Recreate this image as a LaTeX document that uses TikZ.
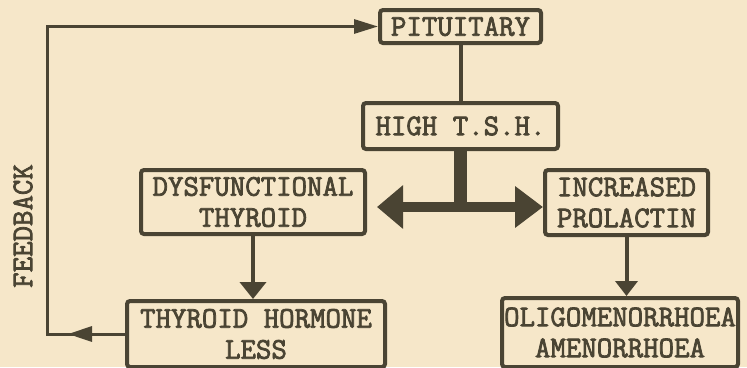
\documentclass[tikz,border=0pt]{standalone}
\usepackage{fontspec}
\newfontfamily\typewriter{Latin Modern Mono}[FakeBold=2.5]
\usepackage{xcolor}
\usepackage{tikz}
\usetikzlibrary{arrows.meta,positioning}

\definecolor{paper}{RGB}{246,231,201}
\definecolor{ink}{RGB}{74,68,51}

\begin{document}
\begin{tikzpicture}[
      x=1pt, y=-1pt,
      box/.style={draw=ink, line width=4pt, rounded corners=3pt, align=center,
          inner sep=0pt, text=ink, font=\typewriter\fontsize{30}{31}\selectfont},
      link/.style={draw=ink, line width=4pt},
      arrow/.style={link, -{Triangle[length=17pt, width=26pt]}},
      bigarrow/.style={draw=ink, line width=10pt,
          {Triangle[length=26pt, width=42pt]}-{Triangle[length=28pt, width=40pt]}},
      feed/.style={draw=ink, line width=3pt}
    ]
    \fill[paper] (0,0) rectangle (747,367);
    \useasboundingbox (0,0) rectangle (747,367);

    \node[box, minimum width=161pt, minimum height=33pt] (pituitary) at (460.5,26.5) {PITUITARY};
    \node[box, below=56pt of pituitary, minimum width=195pt, minimum height=46pt] (tsh) {HIGH T.S.H.};
    \node[box, minimum width=224pt, minimum height=64pt] (dysthyroid) at (253,202) {DYSFUNCTIONAL\\THYROID};
    \node[box, minimum width=163pt, minimum height=65pt] (prolactin) at (626.5,202.5) {INCREASED\\PROLACTIN};
    \node[box, below=63pt of dysthyroid, xshift=3pt, minimum width=258pt, minimum height=66pt] (hormone) {THYROID HORMONE\\LESS};
    \node[box, below=59pt of prolactin, xshift=-6.5pt, minimum width=236pt, minimum height=69pt] (menses) {OLIGOMENORRHOEA\\AMENORRHOEA};
    \node[text=ink, rotate=90, font=\typewriter\fontsize{30}{31}\selectfont] (feedback) at (23,226) {FEEDBACK};

    \coordinate (split) at (460.5,207);
    \coordinate (loop) at (47,180);

    \draw[link] (pituitary) -- (tsh);
    \draw[draw=ink, line width=13pt] (tsh.south) -- ([yshift=-5pt]split);
    \draw[bigarrow] ([xshift=10pt]dysthyroid.east |- split) -- (prolactin.west |- split);
    \draw[arrow] (dysthyroid.south) -- (dysthyroid.south |- hormone.north);
    \draw[arrow, -{Triangle[length=15pt, width=22pt]}] (prolactin.south) -- (prolactin.south |- menses.north);
    \draw[feed, -{Triangle[length=24pt, width=14pt]}] (hormone.west) -| (loop) |- (pituitary.west);
    \draw[feed, -{Triangle[length=24pt, width=15pt]}] (hormone.west) -- ++(-57,0);
  \end{tikzpicture}
\end{document}
